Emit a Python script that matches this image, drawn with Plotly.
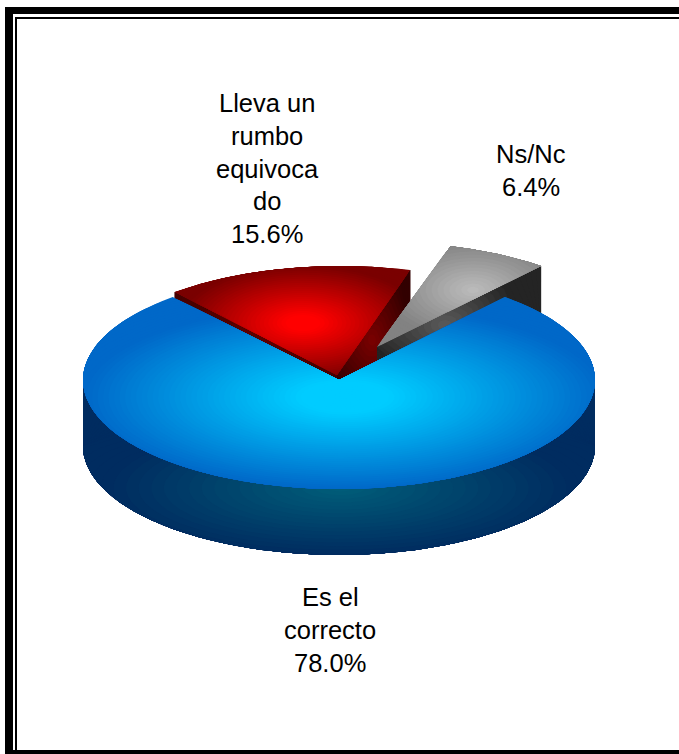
import numpy as np
import plotly.graph_objects as go

# Data
labels = ["Es el\ncorrecto", "Lleva un\nrumbo\nequivoca\ndo", "Ns/Nc"]
values = [78.0, 15.6, 6.4]

# Pie geometry, in page pixels
CX, CY, RX, RY, DEPTH = 339.0, 380.0, 256.0, 109.0, 66.0
START = 130.5           # angle where the first slice ends, going clockwise
BLUE_TILT = 1.7         # the drawn 3D blue edge sits slightly past the grey slice


def lerp(c0, c1, f):
    return "rgb(%d,%d,%d)" % tuple(round(a + (b - a) * f) for a, b in zip(c0, c1))


def ramp(stops, f):
    for (f0, c0), (f1, c1) in zip(stops, stops[1:]):
        if f <= f1:
            return lerp(c0, c1, (f - f0) / (f1 - f0))
    return lerp(stops[-1][1], stops[-1][1], 0)


def edge(a, b, n=40):
    return np.linspace(a, b, n)


def arc(t0, t1, off, n=160):
    t = np.radians(np.linspace(t0, t1, n))
    return np.c_[CX + off[0] + RX * np.cos(t), CY + off[1] - RY * np.sin(t)]


def wedge(t0, t1, off, apex):
    a = arc(t0, t1, off)
    p = np.array(apex, float)
    return np.vstack([edge(p, a[0]), a, edge(a[-1], p)])


def gradient(fig, poly, focal, rx, ry, stops, layers=36):
    """Nested fills: each one is the shape clipped to a smaller ellipse about focal."""
    focal = np.array(focal, float)
    d = poly - focal
    norm = np.hypot(d[:, 0] / rx, d[:, 1] / ry) + 1e-9
    top = max(norm.max(), 1.0)
    for i in range(layers):
        s = top * (1 - i / layers)
        k = np.minimum(1.0, s / norm)[:, None]
        p = focal + d * k
        f = min(s, 1.0)
        fig.add_trace(go.Scatter(x=p[:, 0], y=p[:, 1], mode="lines", fill="toself",
                                 fillcolor=ramp(stops, f), line=dict(width=0),
                                 hoverinfo="skip", showlegend=False))


# Slice angles come from the values
spans = [v / sum(values) * 360 for v in values]
red_t0, red_t1 = START, START - spans[1]
grey_t0, grey_t1 = red_t1, red_t1 - spans[2]
blue_t0, blue_t1 = grey_t1 - BLUE_TILT, grey_t1 - spans[0]

fig = go.Figure()

# Red slice
RED_OFF, RED_APEX = (2, -5), (337, 375)
red_arc = arc(red_t0, red_t1, RED_OFF)
r_corner = red_arc[-1]
l_corner = red_arc[0]
ax = np.array(RED_APEX, float)
down = np.array([0, DEPTH])
gradient(fig, np.vstack([edge(ax, l_corner), edge(l_corner + down, ax + down)]),
         (250, 340), 120, 60, [(0, (100, 0, 0)), (1, (70, 0, 0))], layers=6)
gradient(fig, np.vstack([edge(ax, r_corner), edge(r_corner + down, ax + down)]),
         (372, 340), 50, 70, [(0, (125, 0, 0)), (1, (50, 0, 0))], layers=20)
gradient(fig, wedge(red_t0, red_t1, RED_OFF, RED_APEX),
         (303, 323), 125, 58, [(0, (255, 0, 0)), (0.15, (255, 0, 0)), (1, (122, 0, 0))], layers=36)

# Grey slice
GREY_OFF, GREY_APEX = (42, -29), (377, 347)
grey_arc = arc(grey_t0, grey_t1, GREY_OFF)
g = np.array(GREY_APEX, float)
g_r = grey_arc[-1]
gradient(fig, np.vstack([edge(g, g_r), edge(g_r + down, g + down)]),
         (445, 325), 85, 60, [(0, (92, 92, 92)), (1, (36, 36, 36))], layers=20)
gradient(fig, wedge(grey_t0, grey_t1, GREY_OFF, GREY_APEX),
         (473, 290), 92, 50, [(0, (190, 190, 190)), (1, (130, 130, 130))], layers=24)

# Blue slice: wall first, then top
wall = np.vstack([[[CX - RX, CY]], arc(180, 360, (0, DEPTH), n=300), [[CX + RX, CY]]])
wall = np.vstack([edge(wall[-1], wall[0], 200), wall])
gradient(fig, wall, (340, 488), 235, 68, [(0, (0, 95, 122)), (1, (0, 44, 96))], layers=36)
gradient(fig, wedge(blue_t0, blue_t1, (0, 0), (CX, CY)),
         (345, 397), 262, 93,
         [(0, (0, 204, 255)), (0.18, (0, 204, 255)), (1, (0, 104, 200))], layers=60)

# Labels: one annotation per line so the line spacing matches
text_pos = [(330, 597), (267, 103), (531, 154)]
for lab, v, (x, y) in zip(labels, values, text_pos):
    for i, line in enumerate(lab.split("\n") + [f"{v:.1f}%"]):
        fig.add_annotation(x=x, y=y + i * 32.8, text=line,
                           showarrow=False, xanchor="center", yanchor="middle", align="center",
                           font=dict(family="Liberation Sans, Arial, sans-serif", size=25.5, color="#000"))

# Frame
frame = [(5, 7, 679, 14), (5, 7, 13, 754), (15, 17, 679, 19), (15, 17, 17, 754), (5, 750, 679, 754)]
for x0, y0, x1, y1 in frame:
    fig.add_shape(type="rect", x0=x0, y0=y0, x1=x1, y1=y1, fillcolor="#000", line_width=0, layer="above")

fig.update_layout(width=679, height=754, margin=dict(l=0, r=0, t=0, b=0),
                  paper_bgcolor="#fff", plot_bgcolor="#fff", showlegend=False,
                  xaxis=dict(visible=False, range=[0, 679], fixedrange=True),
                  yaxis=dict(visible=False, range=[754, 0], fixedrange=True))
fig.write_html("out.html", config={"displayModeBar": False},
               post_script="document.body.style.margin='0';document.body.style.overflow='hidden';")
